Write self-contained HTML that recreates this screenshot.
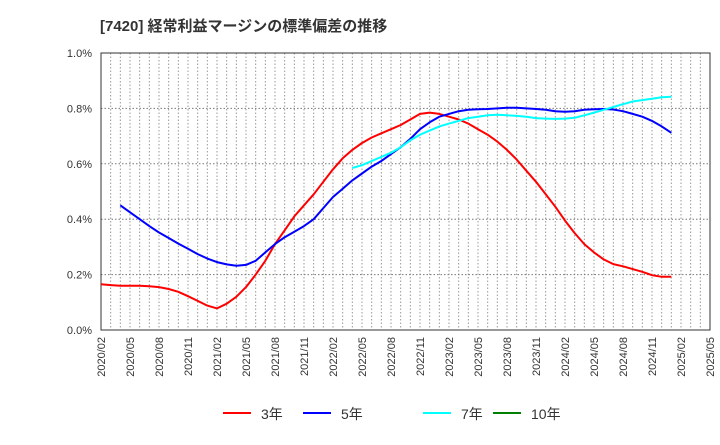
<!DOCTYPE html>
<html><head><meta charset="utf-8"><style>
body{margin:0;background:#fff;font-family:"Liberation Sans","Noto Sans CJK JP",sans-serif}
</style></head><body>
<svg id="c" width="720" height="440" xmlns="http://www.w3.org/2000/svg">
<text x="100" y="31" font-size="15" font-weight="bold" fill="#333" font-family="Liberation Sans, Noto Sans CJK JP, sans-serif">[7420]  経常利益マージンの標準偏差の推移</text>
</svg>
<script>
const xLabels=["2020/02","2020/05","2020/08","2020/11","2021/02","2021/05","2021/08","2021/11","2022/02","2022/05","2022/08","2022/11","2023/02","2023/05","2023/08","2023/11","2024/02","2024/05","2024/08","2024/11","2025/02","2025/05"];
const yTicks=[0,0.2,0.4,0.6,0.8,1.0];
const yLabels=["0.0%","0.2%","0.4%","0.6%","0.8%","1.0%"];
const seriesNames=["3年","5年","7年","10年"];
const s3=[.165,.162,.160,.160,.160,.158,.155,.148,.138,.122,.105,.088,.078,.095,.12,.155,.20,.25,.31,.36,.41,.45,.49,.535,.58,.62,.65,.675,.695,.71,.725,.74,.76,.78,.785,.78,.77,.76,.745,.725,.705,.68,.65,.615,.575,.535,.49,.445,.395,.35,.31,.28,.255,.238,.23,.22,.21,.198,.192,.192];
const s5=[null,null,.45,.425,.40,.375,.352,.332,.312,.293,.274,.258,.245,.237,.232,.235,.25,.28,.31,.335,.355,.375,.40,.44,.48,.51,.54,.565,.59,.61,.635,.66,.69,.725,.75,.77,.78,.79,.795,.797,.798,.80,.802,.802,.80,.798,.795,.79,.788,.79,.795,.797,.798,.796,.79,.78,.77,.755,.735,.712];
const s7=[null,null,null,null,null,null,null,null,null,null,null,null,null,null,null,null,null,null,null,null,null,null,null,null,null,null,.585,.595,.61,.625,.64,.66,.685,.705,.72,.735,.745,.755,.765,.77,.775,.777,.775,.773,.77,.765,.763,.762,.763,.766,.775,.785,.795,.805,.815,.825,.83,.835,.84,.842];
const s10=[];
const colors=["#ff0000","#0000ff","#00ffff","#008000"];
const L=101,R=710,T=53,B=330,NM=63;
const X=i=>L+(R-L)*i/NM;
const Y=v=>B-(B-T)*v/1.0;
const svg=document.getElementById('c');const NS="http://www.w3.org/2000/svg";
function mk(t,a,p){const e=document.createElementNS(NS,t);for(const k in a)e.setAttribute(k,a[k]);(p||svg).appendChild(e);return e;}
for(let m=1;m<NM;m++){const g=mk('line',{x1:X(m),x2:X(m),y1:T,y2:B,stroke:'#999','stroke-dasharray':'1.5,2','stroke-width':1});

}
yTicks.forEach((v,i)=>{if(v>0&&v<1){const g=mk('line',{x1:L,x2:R,y1:Y(v),y2:Y(v),stroke:'#777','stroke-dasharray':'1.5,2'});

}
const t=mk('text',{x:92,y:Y(v)+4,'text-anchor':'end','font-size':11,fill:'#333'});t.textContent=yLabels[i];

});
xLabels.forEach((s,i)=>{const x=X(i*3);const t=mk('text',{transform:`translate(${x+4},337) rotate(-90)`,'text-anchor':'end','font-size':11,fill:'#333'});t.textContent=s;

});
const fr=mk('rect',{x:L,y:T,width:R-L,height:B-T,fill:'none',stroke:'#333'});


[s3,s5,s7,s10].forEach((s,k)=>{let d='';let pen=false;s.forEach((v,i)=>{if(v==null){pen=false;return;}d+=(pen?'L':'M')+X(i).toFixed(1)+','+Y(v).toFixed(1);pen=true;});
if(d){const p=mk('path',{d:d,fill:'none',stroke:colors[k],'stroke-width':2,'stroke-linejoin':'round'});

}});
const lx=[223,303,423,493];
seriesNames.forEach((n,k)=>{const g=mk('g',{});


mk('line',{x1:lx[k],x2:lx[k]+28,y1:413,y2:413,stroke:colors[k],'stroke-width':2},g);
const t=mk('text',{x:lx[k]+38,y:419,'font-size':14,fill:'#333'},g);t.textContent=n;});
</script>
</body></html>
